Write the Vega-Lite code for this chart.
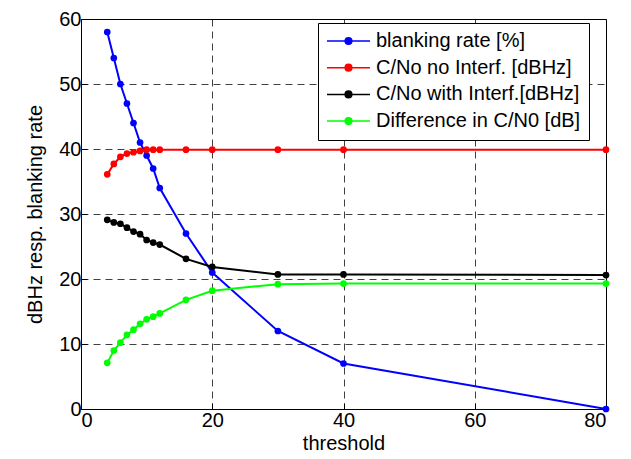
{
  "$schema": "https://vega.github.io/schema/vega-lite/v6.json",
  "width": 525,
  "height": 390,
  "autosize": {"type": "none"},
  "padding": {"left": 81, "top": 19, "right": 25, "bottom": 50},
  "background": "white",
  "config": {
    "font": "Liberation Sans",
    "view": {"stroke": "black", "strokeWidth": 1},
    "axis": {
      "labelFont": "Liberation Sans",
      "titleFont": "Liberation Sans",
      "labelFontSize": 20,
      "titleFontSize": 20,
      "titleFontWeight": "normal",
      "labelColor": "black",
      "titleColor": "black",
      "tickColor": "black",
      "domainColor": "black",
      "tickSize": -6,
      "grid": true,
      "gridColor": "black",
      "gridDash": [7, 5],
      "gridWidth": 1,
      "gridOpacity": 0.75
    }
  },
  "data": {
    "values": [
      {"threshold": 4, "series": "blanking rate [%]", "value": 58},
      {"threshold": 5, "series": "blanking rate [%]", "value": 54},
      {"threshold": 6, "series": "blanking rate [%]", "value": 50},
      {"threshold": 7, "series": "blanking rate [%]", "value": 47},
      {"threshold": 8, "series": "blanking rate [%]", "value": 44},
      {"threshold": 9, "series": "blanking rate [%]", "value": 41},
      {"threshold": 10, "series": "blanking rate [%]", "value": 39},
      {"threshold": 11, "series": "blanking rate [%]", "value": 37},
      {"threshold": 12, "series": "blanking rate [%]", "value": 34},
      {"threshold": 16, "series": "blanking rate [%]", "value": 27},
      {"threshold": 20, "series": "blanking rate [%]", "value": 21},
      {"threshold": 30, "series": "blanking rate [%]", "value": 12},
      {"threshold": 40, "series": "blanking rate [%]", "value": 7},
      {"threshold": 80, "series": "blanking rate [%]", "value": 0},
      {"threshold": 4, "series": "C/No no Interf. [dBHz]", "value": 36.1},
      {"threshold": 5, "series": "C/No no Interf. [dBHz]", "value": 37.7},
      {"threshold": 6, "series": "C/No no Interf. [dBHz]", "value": 38.8},
      {"threshold": 7, "series": "C/No no Interf. [dBHz]", "value": 39.3},
      {"threshold": 8, "series": "C/No no Interf. [dBHz]", "value": 39.5},
      {"threshold": 9, "series": "C/No no Interf. [dBHz]", "value": 39.7},
      {"threshold": 10, "series": "C/No no Interf. [dBHz]", "value": 39.9},
      {"threshold": 11, "series": "C/No no Interf. [dBHz]", "value": 39.9},
      {"threshold": 12, "series": "C/No no Interf. [dBHz]", "value": 39.9},
      {"threshold": 16, "series": "C/No no Interf. [dBHz]", "value": 39.9},
      {"threshold": 20, "series": "C/No no Interf. [dBHz]", "value": 39.9},
      {"threshold": 30, "series": "C/No no Interf. [dBHz]", "value": 39.9},
      {"threshold": 40, "series": "C/No no Interf. [dBHz]", "value": 39.9},
      {"threshold": 80, "series": "C/No no Interf. [dBHz]", "value": 39.9},
      {"threshold": 4, "series": "C/No with Interf.[dBHz]", "value": 29.1},
      {"threshold": 5, "series": "C/No with Interf.[dBHz]", "value": 28.7},
      {"threshold": 6, "series": "C/No with Interf.[dBHz]", "value": 28.5},
      {"threshold": 7, "series": "C/No with Interf.[dBHz]", "value": 27.9},
      {"threshold": 8, "series": "C/No with Interf.[dBHz]", "value": 27.3},
      {"threshold": 9, "series": "C/No with Interf.[dBHz]", "value": 26.9},
      {"threshold": 10, "series": "C/No with Interf.[dBHz]", "value": 26},
      {"threshold": 11, "series": "C/No with Interf.[dBHz]", "value": 25.6},
      {"threshold": 12, "series": "C/No with Interf.[dBHz]", "value": 25.3},
      {"threshold": 16, "series": "C/No with Interf.[dBHz]", "value": 23.1},
      {"threshold": 20, "series": "C/No with Interf.[dBHz]", "value": 21.85},
      {"threshold": 30, "series": "C/No with Interf.[dBHz]", "value": 20.7},
      {"threshold": 40, "series": "C/No with Interf.[dBHz]", "value": 20.7},
      {"threshold": 80, "series": "C/No with Interf.[dBHz]", "value": 20.6},
      {"threshold": 4, "series": "Difference in C/N0 [dB]", "value": 7.1},
      {"threshold": 5, "series": "Difference in C/N0 [dB]", "value": 9},
      {"threshold": 6, "series": "Difference in C/N0 [dB]", "value": 10.2},
      {"threshold": 7, "series": "Difference in C/N0 [dB]", "value": 11.4},
      {"threshold": 8, "series": "Difference in C/N0 [dB]", "value": 12.2},
      {"threshold": 9, "series": "Difference in C/N0 [dB]", "value": 13.1},
      {"threshold": 10, "series": "Difference in C/N0 [dB]", "value": 13.8},
      {"threshold": 11, "series": "Difference in C/N0 [dB]", "value": 14.2},
      {"threshold": 12, "series": "Difference in C/N0 [dB]", "value": 14.7},
      {"threshold": 16, "series": "Difference in C/N0 [dB]", "value": 16.8},
      {"threshold": 20, "series": "Difference in C/N0 [dB]", "value": 18.2},
      {"threshold": 30, "series": "Difference in C/N0 [dB]", "value": 19.2},
      {"threshold": 40, "series": "Difference in C/N0 [dB]", "value": 19.3},
      {"threshold": 80, "series": "Difference in C/N0 [dB]", "value": 19.3}
    ]
  },
  "mark": {"type": "line", "strokeWidth": 2, "clip": false, "point": {"filled": true, "size": 45, "opacity": 1}},
  "encoding": {
    "x": {
      "field": "threshold",
      "type": "quantitative",
      "scale": {"domain": [0, 80], "nice": false},
      "axis": {"values": [0, 20, 40, 60, 80], "title": "threshold", "titlePadding": 3, "labelPadding": 7}
    },
    "y": {
      "field": "value",
      "type": "quantitative",
      "scale": {"domain": [0, 60], "nice": false},
      "axis": {"values": [0, 10, 20, 30, 40, 50, 60], "title": "dBHz resp. blanking rate", "titlePadding": 13, "labelPadding": 6}
    },
    "color": {
      "field": "series",
      "type": "nominal",
      "sort": ["blanking rate [%]", "C/No no Interf. [dBHz]", "C/No with Interf.[dBHz]", "Difference in C/N0 [dB]"],
      "scale": {
        "domain": ["blanking rate [%]", "C/No no Interf. [dBHz]", "C/No with Interf.[dBHz]", "Difference in C/N0 [dB]"],
        "range": ["#0000ff", "#ff0000", "#000000", "#00ff00"]
      },
      "legend": {
        "title": null,
        "orient": "none",
        "legendX": 237,
        "legendY": 4,
        "padding": 8,
        "strokeColor": "black",
        "fillColor": "white",
        "labelFont": "Liberation Sans",
        "labelFontSize": 20,
        "labelColor": "black",
        "labelLimit": 400,
        "labelOffset": 5,
        "rowPadding": 6.7,
        "clipHeight": 20,
        "symbolType": "M-1,0L1,0M0.155,0A0.155,0.155,0,1,1,-0.155,0A0.155,0.155,0,1,1,0.155,0Z",
        "symbolSize": 1849,
        "symbolStrokeWidth": 1.5,
        "symbolOpacity": 1,
        "encode": {
          "symbols": {
            "update": {
              "fill": {"scale": "color", "field": "value"},
              "stroke": {"scale": "color", "field": "value"},
              "opacity": {"value": 1}
            }
          }
        }
      }
    }
  }
}
